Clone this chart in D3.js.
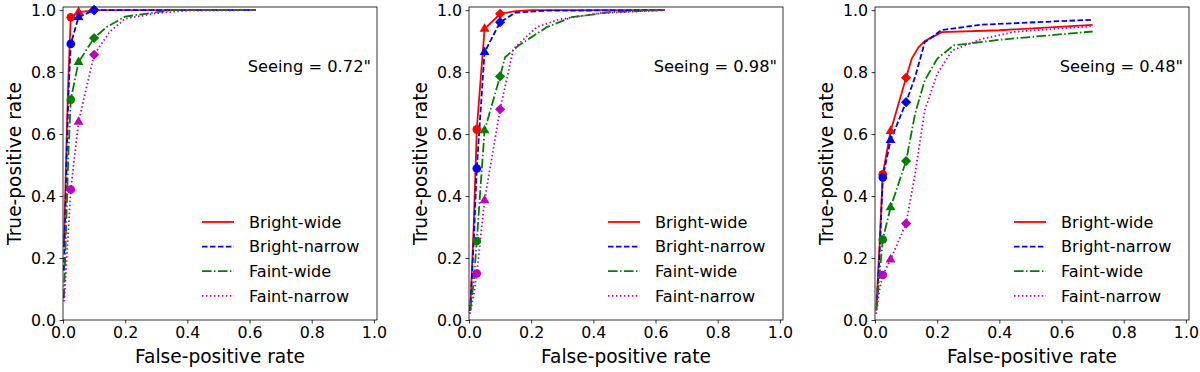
<!DOCTYPE html>
<html>
<head>
<meta charset="utf-8">
<script src="https://cdn.jsdelivr.net/npm/d3@7.9.0/dist/d3.min.js"></script>
<style>
  body { margin: 0; background: #fff; }
  svg { display: block; font-family: "DejaVu Sans", sans-serif; }
</style>
</head>
<body>
<svg id="chart" width="1200" height="372"></svg>
<script>
// values: [false-positive rate, true-positive rate]
const seeingLabels = ['Seeing = 0.72"', 'Seeing = 0.98"', 'Seeing = 0.48"'];
const seriesNames = ['Bright-wide', 'Bright-narrow', 'Faint-wide', 'Faint-narrow'];
const markerFpr = [0.025, 0.05, 0.1];
const tickValues = [0, 0.2, 0.4, 0.6, 0.8, 1.0];

const brightWide072 = [[0.003, 0.235], [0.012, 0.6], [0.018, 0.8], [0.025, 0.977], [0.05, 0.993], [0.1, 1.0], [0.2, 1.0], [0.4, 1.0], [0.62, 1.0]];
const brightNarrow072 = [[0.003, 0.16], [0.01, 0.45], [0.017, 0.72], [0.025, 0.891], [0.05, 0.977], [0.1, 1.0], [0.2, 1.0], [0.62, 1.0]];
const faintWide072 = [[0.003, 0.07], [0.01, 0.3], [0.018, 0.55], [0.025, 0.711], [0.05, 0.832], [0.1, 0.91], [0.14, 0.945], [0.2, 0.979], [0.3, 0.993], [0.35, 1.0], [0.62, 1.0]];
const faintNarrow072 = [[0.004, 0.06], [0.012, 0.2], [0.025, 0.421], [0.05, 0.639], [0.1, 0.856], [0.15, 0.93], [0.2, 0.972], [0.3, 0.99], [0.4, 0.998], [0.62, 1.0]];

const brightWide098 = [[0.004, 0.03], [0.015, 0.3], [0.025, 0.615], [0.05, 0.939], [0.1, 0.988], [0.15, 0.997], [0.2, 1.0], [0.63, 1.0]];
const brightNarrow098 = [[0.004, 0.03], [0.015, 0.25], [0.025, 0.489], [0.05, 0.864], [0.1, 0.961], [0.15, 0.992], [0.25, 0.998], [0.63, 1.0]];
const faintWide098 = [[0.003, 0.03], [0.015, 0.12], [0.025, 0.255], [0.05, 0.612], [0.1, 0.786], [0.116, 0.848], [0.16, 0.886], [0.2, 0.912], [0.25, 0.945], [0.33, 0.977], [0.45, 0.993], [0.63, 1.0]];
const faintNarrow098 = [[0.003, 0.02], [0.015, 0.08], [0.025, 0.15], [0.05, 0.386], [0.1, 0.68], [0.143, 0.875], [0.218, 0.945], [0.29, 0.97], [0.42, 0.99], [0.63, 1.0]];

const brightWide048 = [[0.005, 0.05], [0.015, 0.25], [0.025, 0.47], [0.05, 0.609], [0.1, 0.782], [0.118, 0.843], [0.14, 0.88], [0.16, 0.9], [0.215, 0.929], [0.4, 0.935], [0.7, 0.952]];
const brightNarrow048 = [[0.005, 0.04], [0.015, 0.22], [0.025, 0.46], [0.05, 0.58], [0.1, 0.703], [0.129, 0.784], [0.16, 0.896], [0.215, 0.936], [0.344, 0.953], [0.7, 0.969]];
const faintWide048 = [[0.004, 0.03], [0.015, 0.15], [0.025, 0.26], [0.05, 0.363], [0.1, 0.513], [0.129, 0.666], [0.16, 0.773], [0.2, 0.843], [0.253, 0.886], [0.397, 0.904], [0.7, 0.931]];
const faintNarrow048 = [[0.004, 0.02], [0.015, 0.1], [0.025, 0.145], [0.05, 0.195], [0.1, 0.311], [0.129, 0.472], [0.16, 0.676], [0.2, 0.794], [0.248, 0.87], [0.344, 0.907], [0.45, 0.93], [0.7, 0.948]];

const panels = [
  [brightWide072, brightNarrow072, faintWide072, faintNarrow072],
  [brightWide098, brightNarrow098, faintWide098, faintNarrow098],
  [brightWide048, brightNarrow048, faintWide048, faintNarrow048],
];

// matplotlib r, b--, g-., m:
const colors = ['#ff0000', '#0000ff', '#008000', '#bf00bf'];
const dashes = [null, '5.55,2.4', '9.6,2.4,1.5,2.4', '1.5,2.475'];
const markerTypes = [d3.symbolCircle, d3.symbolTriangle, d3.symbolSquare];
const markerSizes = [58, 42, 52];
const markerRotate = [0, 0, 45];

const svg = d3.select('#chart');
const panelLeft = [63, 469, 875];
const plotW = 314;
const plotTop = 7;
const plotBottom = 320;

panels.forEach((curves, p) => {
  const x = d3.scaleLinear().domain([0, 1.01]).range([panelLeft[p], panelLeft[p] + plotW]);
  const y = d3.scaleLinear().domain([0, 1.01]).range([plotBottom, plotTop]);
  const g = svg.append('g');

  const line = d3.line().x((d) => x(d[0])).y((d) => y(d[1]));

  curves.forEach((pts, i) => {
    g.append('path')
      .attr('d', line(pts))
      .attr('fill', 'none')
      .attr('stroke', colors[i])
      .attr('stroke-width', 1.8)
      .attr('stroke-dasharray', dashes[i]);
  });

  curves.forEach((pts, i) => {
    markerFpr.forEach((f, m) => {
      const pt = pts.find((d) => d[0] === f);
      if (!pt) return;
      g.append('path')
        .attr('d', d3.symbol().type(markerTypes[m]).size(markerSizes[m])())
        .attr('transform', `translate(${x(pt[0])},${y(pt[1])}) rotate(${markerRotate[m]})`)
        .attr('fill', colors[i]);
    });
  });

  // frame
  g.append('rect')
    .attr('x', x.range()[0])
    .attr('y', plotTop)
    .attr('width', plotW)
    .attr('height', plotBottom - plotTop)
    .attr('fill', 'none')
    .attr('stroke', '#000')
    .attr('stroke-width', 0.8);

  const xAxis = g.append('g')
    .attr('transform', `translate(0,${plotBottom})`)
    .call(d3.axisBottom(x).tickValues(tickValues).tickFormat(d3.format('.1f')).tickSize(3.5).tickPadding(3.5));
  const yAxis = g.append('g')
    .attr('transform', `translate(${x.range()[0]},0)`)
    .call(d3.axisLeft(y).tickValues(tickValues).tickFormat(d3.format('.1f')).tickSize(3.5).tickPadding(3.5));
  [xAxis, yAxis].forEach((a) => {
    a.select('.domain').remove();
    a.selectAll('line').attr('stroke', '#000').attr('stroke-width', 0.8);
    a.selectAll('text').attr('font-size', 15.8).attr('fill', '#000').attr('font-family', '"DejaVu Sans", sans-serif');
  });

  g.append('text')
    .attr('x', x.range()[0] + plotW / 2)
    .attr('y', 363)
    .attr('text-anchor', 'middle')
    .attr('font-size', 18.6)
    .text('False-positive rate');

  g.append('text')
    .attr('transform', `translate(${x.range()[0] - 42},${(plotTop + plotBottom) / 2}) rotate(-90)`)
    .attr('text-anchor', 'middle')
    .attr('font-size', 18.6)
    .text('True-positive rate');

  g.append('text')
    .attr('x', x.range()[1] - 6)
    .attr('y', 72)
    .attr('text-anchor', 'end')
    .attr('font-size', 16.3)
    .text(seeingLabels[p]);

  // legend
  const lx = x.range()[0] + 139;
  seriesNames.forEach((name, i) => {
    const ly = 222 + i * 24.6;
    g.append('line')
      .attr('x1', lx).attr('x2', lx + 32)
      .attr('y1', ly).attr('y2', ly)
      .attr('stroke', colors[i])
      .attr('stroke-width', 1.8)
      .attr('stroke-dasharray', dashes[i]);
    g.append('text')
      .attr('x', lx + 47)
      .attr('y', ly + 5.8)
      .attr('font-size', 16.1)
      .text(name);
  });
});
</script>
</body>
</html>
